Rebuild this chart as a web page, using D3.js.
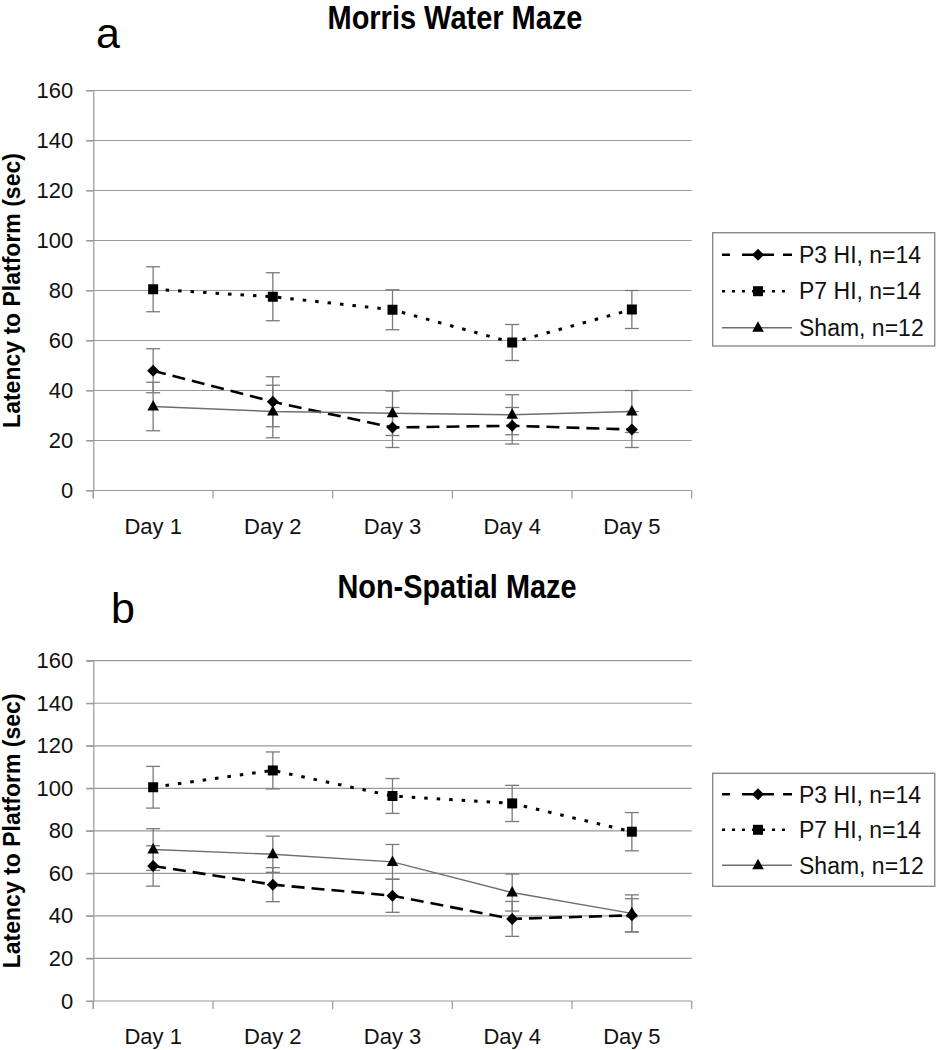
<!DOCTYPE html>
<html>
<head>
<meta charset="utf-8">
<script src="https://cdn.jsdelivr.net/npm/d3@7"></script>
<style>
  html, body { margin: 0; padding: 0; background: #fff; }
  svg { display: block; font-family: "Liberation Sans", Arial, sans-serif; }
</style>
</head>
<body>
<svg id="chart" width="937" height="1050"></svg>
<script>
// ---------- data ----------
const days = ["Day 1", "Day 2", "Day 3", "Day 4", "Day 5"];
const yTicks = [0, 20, 40, 60, 80, 100, 120, 140, 160];
const seriesNames = ["P3 HI, n=14", "P7 HI, n=14", "Sham, n=12"];

// Panel a: Morris Water Maze
const mwmP3 = [47.9, 35.5, 25.2, 25.9, 24.4];
const mwmP3Err = [8.8, 10.0, 8.0, 7.3, 7.2];
const mwmP7 = [80.5, 77.5, 72.3, 59.2, 72.4];
const mwmP7Err = [9.0, 9.6, 8.0, 7.2, 7.6];
const mwmSham = [33.6, 31.6, 30.9, 30.3, 31.6];
const mwmShamErr = [9.7, 10.5, 8.9, 8.0, 8.4];

// Panel b: Non-Spatial Maze
const nsmP3 = [63.5, 54.7, 49.5, 38.6, 40.3];
const nsmP3Err = [9.5, 8.0, 7.8, 8.2, 7.8];
const nsmP7 = [100.5, 108.4, 96.4, 92.9, 79.6];
const nsmP7Err = [9.8, 8.7, 8.2, 8.5, 9.0];
const nsmSham = [71.2, 69.0, 65.4, 51.0, 41.2];
const nsmShamErr = [9.8, 8.5, 8.2, 8.7, 8.7];

// ---------- styles ----------
const FONT = '"Liberation Sans", Arial, sans-serif';
const seriesStyle = [
  { dash: "13,7", width: 2.6, color: "#000", marker: "diamond", legendDash: "8,12,32,9,9,100" },
  { dash: "3.5,9", width: 3, color: "#000", marker: "square", legendDash: "3,7" },
  { dash: null, width: 1.4, color: "#6e6e6e", marker: "triangle", legendDash: null }
];

const svg = d3.select("#chart");

function markerPath(type) {
  if (type === "diamond") return "M0,-6L6,0L0,6L-6,0Z";
  if (type === "square") return "M-5,-5L5,-5L5,5L-5,5Z";
  return "M0,-6.5L5.8,4L-5.8,4Z";
}

function drawPanel(cfg) {
  const g = svg.append("g");
  const x = d3.scaleBand().domain(days).range([93.3, 691.7]).paddingInner(0).paddingOuter(0);
  const y = d3.scaleLinear().domain([0, 160]).range([cfg.yBottom, cfg.yTop]);
  const cx = d => x(d) + x.bandwidth() / 2;

  // gridlines
  g.append("g").selectAll("line").data(yTicks).join("line")
    .attr("x1", 86.3).attr("x2", 691.7)
    .attr("y1", d => y(d)).attr("y2", d => y(d))
    .attr("stroke", "#9a9a9a").attr("stroke-width", 1.2);

  // y axis with labels
  const yAxis = g.append("g").attr("transform", "translate(93.3,0)")
    .call(d3.axisLeft(y).tickValues(yTicks).tickSize(7).tickPadding(13).tickSizeOuter(0));
  yAxis.select(".domain").attr("stroke", "#9a9a9a").attr("stroke-width", 1.2);
  yAxis.selectAll(".tick line").attr("stroke", "#9a9a9a").attr("stroke-width", 1.2);
  yAxis.selectAll("text").attr("font-size", 22).attr("font-family", FONT).attr("fill", "#111");

  // left axis extension below zero
  g.append("line").attr("x1", 93.3).attr("x2", 93.3)
    .attr("y1", y(0)).attr("y2", y(0) + 8)
    .attr("stroke", "#9a9a9a").attr("stroke-width", 1.2);

  // x axis
  const xAxis = g.append("g").attr("transform", `translate(0,${y(0)})`)
    .call(d3.axisBottom(x).tickSize(0).tickSizeOuter(0));
  xAxis.select(".domain").remove();
  xAxis.selectAll("text").attr("font-size", 22).attr("font-family", FONT).attr("fill", "#111")
    .attr("y", 43).attr("dy", 0);
  const edges = days.map(d => x(d)).concat([x.range()[1]]);
  g.append("g").selectAll("line").data(edges).join("line")
    .attr("x1", d => d).attr("x2", d => d)
    .attr("y1", y(0)).attr("y2", y(0) + 8)
    .attr("stroke", "#9a9a9a").attr("stroke-width", 1.2);

  // series
  const series = [
    { vals: cfg.p3, err: cfg.p3Err, st: seriesStyle[0] },
    { vals: cfg.p7, err: cfg.p7Err, st: seriesStyle[1] },
    { vals: cfg.sham, err: cfg.shamErr, st: seriesStyle[2] }
  ];

  // error bars
  series.forEach(s => {
    const eg = g.append("g");
    const pts = days.map((d, i) => ({ d, v: s.vals[i], e: s.err[i] }));
    eg.selectAll("line.v").data(pts).join("line").attr("class", "v")
      .attr("x1", p => cx(p.d)).attr("x2", p => cx(p.d))
      .attr("y1", p => y(p.v + p.e)).attr("y2", p => y(p.v - p.e))
      .attr("stroke", "#7a7a7a").attr("stroke-width", 1.3);
    ["+", "-"].forEach(sign => {
      eg.selectAll("line.c" + (sign === "+" ? "t" : "b")).data(pts).join("line")
        .attr("class", "c" + (sign === "+" ? "t" : "b"))
        .attr("x1", p => cx(p.d) - 7).attr("x2", p => cx(p.d) + 7)
        .attr("y1", p => y(sign === "+" ? p.v + p.e : p.v - p.e))
        .attr("y2", p => y(sign === "+" ? p.v + p.e : p.v - p.e))
        .attr("stroke", "#7a7a7a").attr("stroke-width", 1.3);
    });
  });

  // lines
  const line = d3.line().x((v, i) => cx(days[i])).y(v => y(v));
  series.forEach(s => {
    g.append("path").datum(s.vals)
      .attr("d", line)
      .attr("fill", "none")
      .attr("stroke", s.st.color)
      .attr("stroke-width", s.st.width)
      .attr("stroke-dasharray", s.st.dash);
  });

  // markers
  series.forEach(s => {
    g.append("g").selectAll("path").data(s.vals).join("path")
      .attr("d", markerPath(s.st.marker))
      .attr("transform", (v, i) => `translate(${cx(days[i])},${y(v)})`)
      .attr("fill", "#000");
  });

  // y axis title
  g.append("text")
    .attr("transform", `translate(19.5,${(cfg.yTop + cfg.yBottom) / 2}) rotate(-90)`)
    .attr("text-anchor", "middle")
    .attr("font-size", 23).attr("font-weight", "bold").attr("font-family", FONT)
    .text("Latency to Platform (sec)");

  // title
  g.append("text")
    .attr("x", cfg.titleX).attr("y", cfg.titleY)
    .attr("text-anchor", "middle")
    .attr("font-size", 33).attr("font-weight", "bold").attr("font-family", FONT)
    .attr("textLength", cfg.titleLen).attr("lengthAdjust", "spacingAndGlyphs")
    .text(cfg.title);

  // panel letter
  g.append("text")
    .attr("x", cfg.letterX).attr("y", cfg.letterY)
    .attr("font-size", 43).attr("font-family", FONT)
    .text(cfg.letter);

  // legend
  const lg = g.append("g");
  lg.append("rect")
    .attr("x", 712.7).attr("y", cfg.legTop)
    .attr("width", 222).attr("height", cfg.legH)
    .attr("fill", "#fff").attr("stroke", "#8a8a8a").attr("stroke-width", 1.4);
  seriesNames.forEach((name, i) => {
    const st = seriesStyle[i];
    const yy = cfg.legTop + cfg.legFirst + i * cfg.legStep;
    lg.append("line")
      .attr("x1", 722).attr("x2", 792).attr("y1", yy).attr("y2", yy)
      .attr("stroke", st.color).attr("stroke-width", i === 2 ? 1.4 : (i === 1 ? 2.6 : 2.4))
      .attr("stroke-dasharray", st.legendDash);
    lg.append("path").attr("d", markerPath(st.marker))
      .attr("transform", `translate(758,${yy})`).attr("fill", "#000");
    lg.append("text")
      .attr("x", 799).attr("y", yy).attr("dy", "0.36em")
      .attr("font-size", 23).attr("font-family", FONT).attr("fill", "#111")
      .text(name);
  });
}

drawPanel({
  title: "Morris Water Maze", titleX: 455, titleY: 29, titleLen: 255,
  letter: "a", letterX: 96, letterY: 48,
  yTop: 90.5, yBottom: 490.5,
  legTop: 232.7, legH: 113.3, legFirst: 22, legStep: 36.5,
  p3: mwmP3, p3Err: mwmP3Err, p7: mwmP7, p7Err: mwmP7Err, sham: mwmSham, shamErr: mwmShamErr
});

drawPanel({
  title: "Non-Spatial Maze", titleX: 457, titleY: 597.5, titleLen: 239,
  letter: "b", letterX: 111, letterY: 622.7,
  yTop: 660.7, yBottom: 1001,
  legTop: 773.3, legH: 113, legFirst: 21, legStep: 35.5,
  p3: nsmP3, p3Err: nsmP3Err, p7: nsmP7, p7Err: nsmP7Err, sham: nsmSham, shamErr: nsmShamErr
});
</script>
</body>
</html>
